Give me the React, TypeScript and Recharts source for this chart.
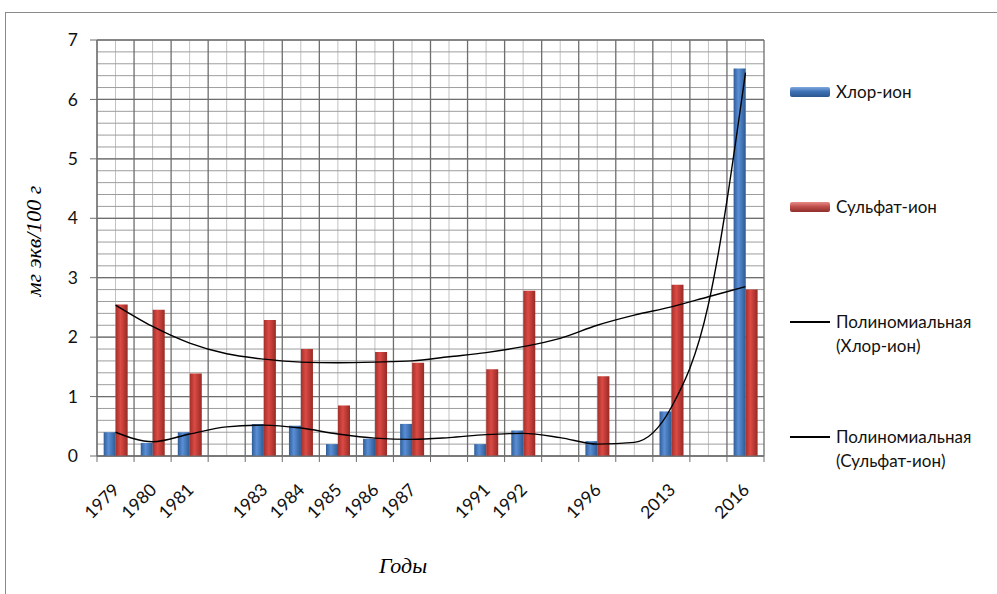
import React from 'react';
import { ComposedChart, Bar, Line, XAxis, YAxis, CartesianGrid, Legend } from 'recharts';

// 18 slots along the axis; empty slots keep the spacing of the original sheet
const years = ['1979', '1980', '1981', '', '1983', '1984', '1985', '1986', '1987', '', '1991', '1992', '', '1996', '', '2013', '', '2016'];
const chlorIon = [0.4, 0.22, 0.4, null, 0.54, 0.51, 0.2, 0.29, 0.54, null, 0.2, 0.43, null, 0.25, null, 0.75, null, 6.52];
const sulfateIon = [2.55, 2.46, 1.39, null, 2.29, 1.8, 0.85, 1.75, 1.57, null, 1.46, 2.78, null, 1.34, null, 2.88, null, 2.8];
// polynomial trend lines, read at each slot
const chlorTrend = [0.4, 0.24, 0.37, 0.49, 0.52, 0.47, 0.37, 0.3, 0.28, 0.31, 0.36, 0.38, 0.31, 0.2, 0.23, 0.82, 2.55, 6.45];
const sulfateTrend = [2.54, 2.18, 1.9, 1.72, 1.63, 1.58, 1.57, 1.58, 1.6, 1.67, 1.74, 1.84, 1.98, 2.2, 2.37, 2.51, 2.68, 2.85];

const yTicks = [0, 1, 2, 3, 4, 5, 6, 7];
const yMax = 7;
const minorStep = 0.2;

const data = years.map((year, i) => ({
  slot: i,
  year,
  chlor: chlorIon[i],
  sulfate: sulfateIon[i],
  chlorTrend: chlorTrend[i],
  sulfateTrend: sulfateTrend[i],
}));

const FONT = 'Lato, "Open Sans", sans-serif';
const SERIF = '"Liberation Serif", "DejaVu Serif", serif';
const AXIS = '#6e6e6e';

const CHART_W = 997;
const CHART_H = 594;
const MARGIN = { top: 40, right: 233, bottom: 58, left: 0 };
const Y_AXIS_W = 97;
const BAND = (CHART_W - MARGIN.left - MARGIN.right - Y_AXIS_W) / years.length;

// grid lines from the plot box: slot edges, slot centres and 0.2 rows
const bandEdges = ({ offset }: any) => {
  const step = offset.width / years.length;
  return Array.from({ length: years.length + 1 }, (_, i) => offset.left + i * step);
};
const bandCenters = ({ offset }: any) => {
  const step = offset.width / years.length;
  return years.map((_, i) => offset.left + (i + 0.5) * step);
};
const minorRows = ({ offset }: any) => {
  const n = Math.round(yMax / minorStep);
  return Array.from({ length: n + 1 }, (_, i) => offset.top + (offset.height * i) / n);
};

function YearTick({ x, y, payload, index }: any) {
  const label = years[payload.value];
  const half = BAND / 2;
  return (
    <g transform={`translate(${x},${y})`}>
      <line x1={-half} x2={-half} y1={0} y2={6} stroke={AXIS} />
      {index === years.length - 1 && <line x1={half} x2={half} y1={0} y2={6} stroke={AXIS} />}
      {label && (
        <text x={5} y={35} transform="rotate(-45, 5, 35)" textAnchor="end" fill="#111" fontSize={17.5} fontFamily={FONT}>
          {label}
        </text>
      )}
    </g>
  );
}

const legendRows = [
  { kind: 'bar', color: 'linear-gradient(#7fa9e0, #3f72b5 45%, #2c5790)', lines: ['Хлор-ион'] },
  { kind: 'bar', color: 'linear-gradient(#e88a86, #c0504d 45%, #8f2e2b)', lines: ['Сульфат-ион'] },
  { kind: 'line', color: '#000', lines: ['Полиномиальная', '(Хлор-ион)'] },
  { kind: 'line', color: '#000', lines: ['Полиномиальная', '(Сульфат-ион)'] },
];

function ChartLegend() {
  return (
    <div style={{ fontFamily: FONT, fontSize: 17, color: '#111' }}>
      {legendRows.map((row, i) => (
        <div key={i} style={{ height: 115, display: 'flex', alignItems: 'flex-start' }}>
          <div style={{ width: 46, height: 24, display: 'flex', alignItems: 'center' }}>
            {row.kind === 'bar' ? (
              <div style={{ width: 40, height: 10, background: row.color, borderRadius: 2 }} />
            ) : (
              <div style={{ width: 40, height: 1.5, background: row.color }} />
            )}
          </div>
          <div style={{ lineHeight: '24px' }}>
            {row.lines.map((t) => (
              <div key={t}>{t}</div>
            ))}
          </div>
        </div>
      ))}
    </div>
  );
}

export default function App() {
  return (
    <div style={{ position: 'absolute', left: 0, top: 0, width: CHART_W, height: CHART_H, overflow: 'hidden', background: '#fff' }}>
      <div style={{ position: 'absolute', left: 5, top: 12, width: 1200, height: 800, border: '1px solid #8a8a8a' }} />
      <div style={{ position: 'absolute', left: 0, top: 0 }}>
        <ComposedChart
          width={CHART_W}
          height={CHART_H}
          data={data}
          margin={MARGIN}
          barGap={0}
          barCategoryGap="18%"
        >
          <defs>
            <linearGradient id="blueBar" x1="0" y1="0" x2="1" y2="0">
              <stop offset="0%" stopColor="#2f5d98" />
              <stop offset="40%" stopColor="#5a8fd6" />
              <stop offset="100%" stopColor="#2d5a93" />
            </linearGradient>
            <linearGradient id="redBar" x1="0" y1="0" x2="1" y2="0">
              <stop offset="0%" stopColor="#a3302b" />
              <stop offset="40%" stopColor="#dc4a44" />
              <stop offset="100%" stopColor="#962a25" />
            </linearGradient>
          </defs>
          <XAxis
            xAxisId="cat"
            dataKey="slot"
            type="category"
            interval={0}
            stroke={AXIS}
            tickLine={false}
            tickSize={0}
            tickMargin={0}
            height={80}
            tick={<YearTick />}
          />
          <YAxis
            yAxisId="main"
            domain={[0, yMax]}
            ticks={yTicks}
            interval={0}
            width={Y_AXIS_W}
            tickSize={7}
            tickMargin={12}
            stroke={AXIS}
            tick={{ fill: '#111', fontSize: 17.5, fontFamily: FONT }}
          />
          <CartesianGrid
            xAxisId="cat"
            yAxisId="main"
            horizontal={false}
            verticalCoordinatesGenerator={bandCenters}
            stroke="#c2c2c2"
          />
          <CartesianGrid
            xAxisId="cat"
            yAxisId="main"
            vertical={false}
            horizontalCoordinatesGenerator={minorRows}
            stroke="#9d9d9d"
          />
          <CartesianGrid
            xAxisId="cat"
            yAxisId="main"
            verticalCoordinatesGenerator={bandEdges}
            stroke={AXIS}
            strokeWidth={1.3}
          />
          <Bar xAxisId="cat" yAxisId="main" dataKey="chlor" name="Хлор-ион" fill="url(#blueBar)" isAnimationActive={false} />
          <Bar xAxisId="cat" yAxisId="main" dataKey="sulfate" name="Сульфат-ион" fill="url(#redBar)" isAnimationActive={false} />
          <Line
            xAxisId="cat"
            yAxisId="main"
            type="monotone"
            dataKey="chlorTrend"
            name="Полиномиальная (Хлор-ион)"
            stroke="#000"
            strokeWidth={1.4}
            dot={false}
            activeDot={false}
            isAnimationActive={false}
          />
          <Line
            xAxisId="cat"
            yAxisId="main"
            type="monotone"
            dataKey="sulfateTrend"
            name="Полиномиальная (Сульфат-ион)"
            stroke="#000"
            strokeWidth={1.4}
            dot={false}
            activeDot={false}
            isAnimationActive={false}
          />
          <Legend
            layout="horizontal"
            verticalAlign="middle"
            align="center"
            wrapperStyle={{ left: 790, top: 80, width: 200 }}
            content={<ChartLegend />}
          />
        </ComposedChart>
      </div>
      <div
        style={{
          position: 'absolute',
          left: 353,
          top: 553,
          width: 100,
          textAlign: 'center',
          fontFamily: SERIF,
          fontStyle: 'italic',
          fontSize: 22,
          lineHeight: '26px',
        }}
      >
        Годы
      </div>
      <div
        style={{
          position: 'absolute',
          left: -66,
          top: 228,
          width: 200,
          height: 26,
          lineHeight: '26px',
          textAlign: 'center',
          transform: 'rotate(-90deg)',
          fontFamily: SERIF,
          fontStyle: 'italic',
          fontSize: 22,
        }}
      >
        мг экв/100 г
      </div>
    </div>
  );
}
